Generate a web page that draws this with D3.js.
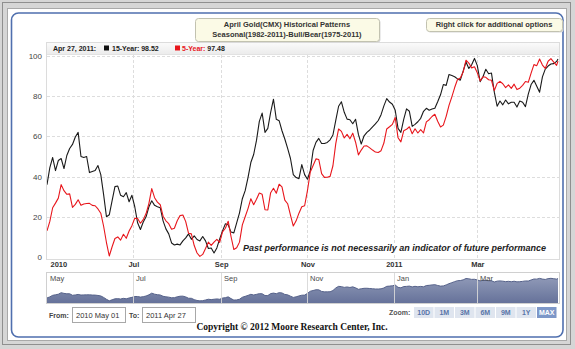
<!DOCTYPE html>
<html>
<head>
<meta charset="utf-8">
<script src="https://cdn.jsdelivr.net/npm/d3@7/dist/d3.min.js"></script>
<style>
  html, body { margin: 0; padding: 0; background: #d2d2d2; }
  svg { display: block; }
  text { -webkit-font-smoothing: antialiased; }
</style>
</head>
<body>
<svg id="chart" width="575" height="349"></svg>
<script>
// Dates of the seasonal pattern (every second day, May 2010 – Apr 2011)
const dates = [
  "2010-05-01","2010-05-03","2010-05-05","2010-05-07","2010-05-09","2010-05-11","2010-05-13","2010-05-15",
  "2010-05-17","2010-05-19","2010-05-21","2010-05-23","2010-05-25","2010-05-27","2010-05-29","2010-05-31",
  "2010-06-02","2010-06-04","2010-06-06","2010-06-08","2010-06-10","2010-06-12","2010-06-14","2010-06-16",
  "2010-06-18","2010-06-20","2010-06-22","2010-06-24","2010-06-26","2010-06-28","2010-06-30",
  "2010-07-02","2010-07-04","2010-07-06","2010-07-08","2010-07-10","2010-07-12","2010-07-14","2010-07-16",
  "2010-07-18","2010-07-20","2010-07-22","2010-07-24","2010-07-26","2010-07-28","2010-07-30",
  "2010-08-01","2010-08-03","2010-08-05","2010-08-07","2010-08-09","2010-08-11","2010-08-13","2010-08-15",
  "2010-08-17","2010-08-19","2010-08-21","2010-08-23","2010-08-25","2010-08-27","2010-08-29","2010-08-31",
  "2010-09-02","2010-09-04","2010-09-06","2010-09-08","2010-09-10","2010-09-12","2010-09-14","2010-09-16",
  "2010-09-18","2010-09-20","2010-09-22","2010-09-24","2010-09-26","2010-09-28","2010-09-30",
  "2010-10-02","2010-10-04","2010-10-06","2010-10-08","2010-10-10","2010-10-12","2010-10-14","2010-10-16",
  "2010-10-18","2010-10-20","2010-10-22","2010-10-24","2010-10-26","2010-10-28","2010-10-30",
  "2010-11-01","2010-11-03","2010-11-05","2010-11-07","2010-11-09","2010-11-11","2010-11-13","2010-11-15",
  "2010-11-17","2010-11-19","2010-11-21","2010-11-23","2010-11-25","2010-11-27","2010-11-29",
  "2010-12-01","2010-12-03","2010-12-05","2010-12-07","2010-12-09","2010-12-11","2010-12-13","2010-12-15",
  "2010-12-17","2010-12-19","2010-12-21","2010-12-23","2010-12-25","2010-12-27","2010-12-29","2010-12-31",
  "2011-01-02","2011-01-04","2011-01-06","2011-01-08","2011-01-10","2011-01-12","2011-01-14","2011-01-16",
  "2011-01-18","2011-01-20","2011-01-22","2011-01-24","2011-01-26","2011-01-28","2011-01-30",
  "2011-02-01","2011-02-03","2011-02-05","2011-02-07","2011-02-09","2011-02-11","2011-02-13","2011-02-15",
  "2011-02-17","2011-02-19","2011-02-21","2011-02-23","2011-02-25","2011-02-27",
  "2011-03-01","2011-03-03","2011-03-05","2011-03-07","2011-03-09","2011-03-11","2011-03-13","2011-03-15",
  "2011-03-17","2011-03-19","2011-03-21","2011-03-23","2011-03-25","2011-03-27","2011-03-29","2011-03-31",
  "2011-04-02","2011-04-04","2011-04-06","2011-04-08","2011-04-10","2011-04-12","2011-04-14","2011-04-16",
  "2011-04-18","2011-04-20","2011-04-22","2011-04-24","2011-04-26","2011-04-27"
];

// 15-year seasonal pattern (index 0–100)
const fifteenYear = [
  36,44.5,49.5,43,48,49,44,50.5,54,56,59.7,62,50,49.5,50,42,
  42.5,43,45.5,41,31,20,21,28,35,35.3,30.7,30,32,27.5,30.7,
  25,17,13.7,17.4,20,25,28,25.7,25,24.5,18,14,11.5,7,6,
  6.4,6,8,9.5,11.5,8.8,10.5,8.7,8,10.2,8,4.2,4.5,2,4.5,9,
  13,16.5,16,12.4,12,17,22,29,33,39.5,47,51,58,67.5,71.6,
  62,64,72,78.5,68.5,67.8,62.8,58.7,54,49,41,39.5,39,46,41,
  38.7,43,53,57,59,56.5,56.5,57,58.3,60.7,68,75,77.2,72,68.6,
  68.3,66.3,68.5,61,56.2,60.3,62,63.2,64.7,66.2,67.9,70.8,75.2,78.8,77.1,76,
  73,64,62,68.5,73.7,72.5,65,66,67.3,69,72.5,74,73,73.6,74,
  77.2,80.7,85.8,85.4,90.8,90.3,89.7,88.6,88,92.5,97,93.8,95.6,98.8,
  95.2,87.2,89.7,93.4,91.2,91.5,82,75,77.6,75.7,78.1,76.2,77,77,74.6,77.6,
  77,74.8,81,85.8,87.9,84.9,82,89.6,93.5,95,96,96.2,97.3,98.52
];

// 5-year seasonal pattern (index 0–100)
const fiveYear = [
  13,17.7,24.5,26.8,29.3,36,33,31.2,31.4,24.7,26.2,28.5,25.7,26.4,26.6,26.7,
  25.7,25.5,23.9,21.8,15.3,7.2,0.5,5.1,9.2,10,8.4,11.3,9.3,12.9,15.6,
  19.3,19.2,16.8,18.6,21.6,26.7,34,29.5,27.3,26,20.3,18,16.6,13.8,14.3,
  18,20.6,20.9,17.6,11.8,11.5,5.7,2,0.3,1.3,4.2,7.4,5.8,7.4,8.8,7.3,
  12.5,14.3,17.8,10.2,3.7,4.6,7.4,16,20,24.1,29,26,28.7,31.8,31.2,
  23.5,23.4,32,34.2,31.7,36.2,34.9,28.3,26.5,20.8,15.4,18,21.8,25,25.5,
  33,42.3,45.5,48.8,48.5,41.5,39.6,39.7,40.1,45.4,56.4,63.7,62.5,59.2,61,
  58.8,61.6,57.1,50.8,53.2,55.2,55.3,54.3,53.2,52.2,52,52.9,56.7,63.7,64.8,66,
  69.4,59.3,57.3,62.8,63.5,64.8,61.3,63.8,61.7,63.4,61.7,67.2,68.3,69.9,71,
  67.5,64.7,65.6,70,75.4,79.7,84.3,88.3,89.1,92,97.9,96.5,94.1,94.6,
  91.6,87.6,89.7,89.4,88.2,87.9,82.8,86.4,87.4,86.2,84.3,85.6,83.9,86,83.3,84,
  85.4,87.3,86.9,91.5,95.7,95.2,98.5,95.5,93.8,97.4,98.7,97,95.3,97.48
];

const yTicks = [0, 20, 40, 60, 80, 100];
const xTickDates = ["2010-05-01","2010-07-01","2010-09-01","2010-11-01","2011-01-01","2011-03-01"];
const xTickLabels = ["2010","Jul","Sep","Nov","2011","Mar"];
const navTickLabels = ["May","Jul","Sep","Nov","Jan","Mar"];
const zoomButtons = ["10D","1M","3M","6M","9M","1Y","MAX"];

const parse = d3.utcParse("%Y-%m-%d");
const rows = dates.map((d, i) => ({ date: parse(d), a: fifteenYear[i], b: fiveYear[i] }));

const svg = d3.select("#chart");
const defs = svg.append("defs");
const sans = "Liberation Sans, Arial, sans-serif";

// ---- outer frame ----
svg.append("rect").attr("x", 0).attr("y", 0).attr("width", 575).attr("height", 349).attr("fill", "#d6d6d6");
svg.append("rect").attr("x", 2.5).attr("y", 2.5).attr("width", 568).attr("height", 342)
  .attr("fill", "none").attr("stroke", "#8f8f8f");
svg.append("rect").attr("x", 7.5).attr("y", 8.5).attr("width", 559).attr("height", 332)
  .attr("fill", "#ffffff").attr("stroke", "#a9a9a9");
svg.append("rect").attr("x", 11.5).attr("y", 13).attr("width", 551.5).attr("height", 324)
  .attr("rx", 7).attr("fill", "#ffffff").attr("stroke", "#4f6fae").attr("stroke-width", 1.6);

// ---- scales ----
const x = d3.scaleUtc()
  .domain([parse("2010-05-01"), parse("2011-04-27")])
  .range([47, 558]);
const y = d3.scaleLinear().domain([0, 100]).range([257, 56]);

const plotL = 47, plotR = 560, plotT = 42, plotB = 259;

// plot frame
svg.append("rect").attr("x", plotL - 0.5).attr("y", plotT + 0.5).attr("width", plotR - plotL).attr("height", plotB - plotT)
  .attr("fill", "#ffffff").attr("stroke", "#dcdcdc");

// legend strip
const lg = defs.append("linearGradient").attr("id", "legendBg").attr("x1", 0).attr("y1", 0).attr("x2", 0).attr("y2", 1);
lg.append("stop").attr("offset", "0%").attr("stop-color", "#fafafa");
lg.append("stop").attr("offset", "100%").attr("stop-color", "#ececec");
svg.append("rect").attr("x", plotL).attr("y", plotT + 1).attr("width", plotR - plotL - 1).attr("height", 11)
  .attr("fill", "url(#legendBg)");
svg.append("line").attr("x1", plotL).attr("x2", plotR - 1).attr("y1", plotT + 12.5).attr("y2", plotT + 12.5)
  .attr("stroke", "#e2e2e2");

// ---- grid ----
const grid = svg.append("g");
grid.selectAll("line.h").data(yTicks.filter(v => v > 0)).join("line")
  .attr("x1", plotL).attr("x2", plotR - 1)
  .attr("y1", d => Math.round(y(d)) + 0.5).attr("y2", d => Math.round(y(d)) + 0.5)
  .attr("stroke", "#dddddd").attr("stroke-dasharray", "3,2");
grid.selectAll("line.v").data(xTickDates.slice(1)).join("line")
  .attr("x1", d => Math.round(x(parse(d))) + 0.5).attr("x2", d => Math.round(x(parse(d))) + 0.5)
  .attr("y1", plotT + 13).attr("y2", plotB)
  .attr("stroke", "#dddddd").attr("stroke-dasharray", "3,2");

// y axis labels
const yAxis = d3.axisLeft(y).tickValues(yTicks).tickSize(0).tickPadding(0);
svg.append("g").attr("transform", "translate(42,0)").call(yAxis)
  .call(g => g.select(".domain").remove())
  .call(g => g.selectAll("text").attr("font-family", sans).attr("font-size", 8).attr("fill", "#444"));

// x axis labels
const xAxis = d3.axisBottom(x).tickValues(xTickDates.map(parse))
  .tickFormat((d, i) => xTickLabels[i]).tickSize(0).tickPadding(0);
svg.append("g").attr("transform", `translate(0,${plotB + 1})`).call(xAxis)
  .call(g => g.select(".domain").remove())
  .call(g => g.selectAll("text").attr("font-family", sans)
    .attr("font-size", 7.5).attr("font-weight", "bold").attr("fill", "#333")
    .attr("dy", "0.9em")
    .attr("text-anchor", (d, i) => i === 0 ? "start" : "middle")
    .attr("dx", (d, i) => i === 0 ? 3 : 0));

// ---- series ----
defs.append("clipPath").attr("id", "plotClip").append("rect")
  .attr("x", plotL).attr("y", plotT + 12).attr("width", plotR - plotL).attr("height", plotB - plotT - 12);

const lineA = d3.line().x(d => x(d.date)).y(d => y(d.a));
const lineB = d3.line().x(d => x(d.date)).y(d => y(d.b));
const series = svg.append("g").attr("clip-path", "url(#plotClip)");
series.append("path").datum(rows).attr("d", lineA)
  .attr("fill", "none").attr("stroke", "#1a1a1a").attr("stroke-width", 1.1).attr("stroke-linejoin", "round");
series.append("path").datum(rows).attr("d", lineB)
  .attr("fill", "none").attr("stroke", "#e8161c").attr("stroke-width", 1.1).attr("stroke-linejoin", "round");

// disclaimer
svg.append("text").attr("x", 243).attr("y", 250.5)
  .attr("font-family", sans).attr("font-size", 9.5)
  .attr("font-weight", "bold").attr("font-style", "italic").attr("fill", "#222")
  .attr("textLength", 303).attr("lengthAdjust", "spacingAndGlyphs")
  .style("paint-order", "stroke").attr("stroke", "#ffffff").attr("stroke-width", 2)
  .text("Past performance is not necessarily an indicator of future performance");

// ---- legend text ----
const last = rows[rows.length - 1];
const lgY = plotT + 9;
svg.append("text").attr("x", 53).attr("y", lgY).attr("font-family", sans).attr("font-size", 7)
  .attr("font-weight", "bold").attr("fill", "#222").text("Apr 27, 2011:");
svg.append("rect").attr("x", 104).attr("y", lgY - 5.5).attr("width", 5).attr("height", 5).attr("fill", "#111");
svg.append("text").attr("x", 112).attr("y", lgY).attr("font-family", sans).attr("font-size", 7)
  .attr("font-weight", "bold").attr("fill", "#222").text("15-Year: " + last.a.toFixed(2));
svg.append("rect").attr("x", 175).attr("y", lgY - 5.5).attr("width", 5).attr("height", 5).attr("fill", "#e8161c");
const t5 = svg.append("text").attr("x", 182).attr("y", lgY).attr("font-family", sans).attr("font-size", 7)
  .attr("font-weight", "bold");
t5.append("tspan").attr("fill", "#e8161c").text("5-Year:");
t5.append("tspan").attr("fill", "#222").text(" " + last.b.toFixed(2));

// ---- title boxes ----
function noteBox(x0, y0, w, h, lines) {
  svg.append("rect").attr("x", x0 + 1.5).attr("y", y0 + 1.5).attr("width", w).attr("height", h)
    .attr("rx", 3).attr("fill", "#d8d8d8");
  svg.append("rect").attr("x", x0 + 0.5).attr("y", y0 + 0.5).attr("width", w).attr("height", h)
    .attr("rx", 3).attr("fill", "#fbfae6").attr("stroke", "#c2c2b0");
  lines.forEach((l, i) => {
    svg.append("text").attr("x", x0 + w / 2).attr("y", y0 + 9 + i * 10).attr("text-anchor", "middle")
      .attr("font-family", sans).attr("font-size", 7.5).attr("font-weight", "bold").attr("fill", "#333").text(l);
  });
}
noteBox(195, 18, 184, 23, ["April Gold(CMX) Historical Patterns", "Seasonal(1982-2011)-Bull/Bear(1975-2011)"]);
noteBox(426, 18, 136, 13, ["Right click for additional options"]);

// ---- navigator ----
const navT = 273, navB = 303;
const yNav = d3.scaleLinear().domain([-9, 122]).range([navB, navT]);
svg.append("rect").attr("x", plotL - 0.5).attr("y", navT - 0.5).attr("width", plotR - plotL).attr("height", navB - navT + 1)
  .attr("fill", "#ffffff").attr("stroke", "#d0d0d0");
const ng = defs.append("linearGradient").attr("id", "navFill").attr("x1", 0).attr("y1", 0).attr("x2", 0).attr("y2", 1);
ng.append("stop").attr("offset", "0%").attr("stop-color", "#8e98b6");
ng.append("stop").attr("offset", "100%").attr("stop-color", "#66729a");
const navArea = d3.area().x(d => x(d.date)).y0(navB).y1(d => yNav(d.b));
svg.append("path").datum(rows).attr("d", navArea).attr("fill", "url(#navFill)");
svg.append("path").datum(rows).attr("d", d3.line().x(d => x(d.date)).y(d => yNav(d.b)))
  .attr("fill", "none").attr("stroke", "#56628a").attr("stroke-width", 1);
const navTicks = svg.append("g");
navTicks.selectAll("line").data(xTickDates.slice(1)).join("line")
  .attr("x1", d => Math.round(x(parse(d))) + 0.5).attr("x2", d => Math.round(x(parse(d))) + 0.5)
  .attr("y1", navT).attr("y2", navB).attr("stroke", "#d8d8d8").attr("opacity", 0.9);
navTicks.selectAll("text").data(xTickDates).join("text")
  .attr("x", d => Math.round(x(parse(d))) + 3).attr("y", navT + 8)
  .attr("font-family", sans).attr("font-size", 7.5).attr("fill", "#4a4a4a")
  .text((d, i) => navTickLabels[i]);

// ---- range selector ----
const rsY = 318;
svg.append("text").attr("x", 49).attr("y", rsY).attr("font-family", sans).attr("font-size", 7)
  .attr("font-weight", "bold").attr("fill", "#444").text("From:");
svg.append("rect").attr("x", 72.5).attr("y", 307.5).attr("width", 53).attr("height", 15)
  .attr("fill", "#fff").attr("stroke", "#a8a8a8");
svg.append("text").attr("x", 76).attr("y", rsY).attr("font-family", sans).attr("font-size", 7.5)
  .attr("fill", "#333").text("2010 May 01");
svg.append("text").attr("x", 129).attr("y", rsY).attr("font-family", sans).attr("font-size", 7)
  .attr("font-weight", "bold").attr("fill", "#444").text("To:");
svg.append("rect").attr("x", 142.5).attr("y", 307.5).attr("width", 53).attr("height", 15)
  .attr("fill", "#fff").attr("stroke", "#a8a8a8");
svg.append("text").attr("x", 146).attr("y", rsY).attr("font-family", sans).attr("font-size", 7.5)
  .attr("fill", "#333").text("2011 Apr 27");

svg.append("text").attr("x", 389).attr("y", 315).attr("font-family", sans).attr("font-size", 7)
  .attr("font-weight", "bold").attr("fill", "#555").text("Zoom:");
const btnW = 19.5, btnGap = 1, btnX0 = 414;
const btns = svg.append("g");
btns.selectAll("rect").data(zoomButtons).join("rect")
  .attr("x", (d, i) => btnX0 + i * (btnW + btnGap)).attr("y", 307).attr("width", btnW).attr("height", 11)
  .attr("fill", (d, i) => i === zoomButtons.length - 1 ? "#7d97c8" : "#dfe5ef");
btns.selectAll("text").data(zoomButtons).join("text")
  .attr("x", (d, i) => btnX0 + i * (btnW + btnGap) + btnW / 2).attr("y", 315.3).attr("text-anchor", "middle")
  .attr("font-family", sans).attr("font-size", 7).attr("font-weight", "bold")
  .attr("fill", (d, i) => i === zoomButtons.length - 1 ? "#ffffff" : "#5874a8").text(d => d);

// ---- copyright ----
svg.append("text").attr("x", 292).attr("y", 330).attr("text-anchor", "middle")
  .attr("font-family", "Liberation Serif, Times New Roman, serif").attr("font-size", 9.5).attr("font-weight", "bold")
  .attr("fill", "#111").text("Copyright \u00a9 2012 Moore Research Center, Inc.");
</script>
</body>
</html>
